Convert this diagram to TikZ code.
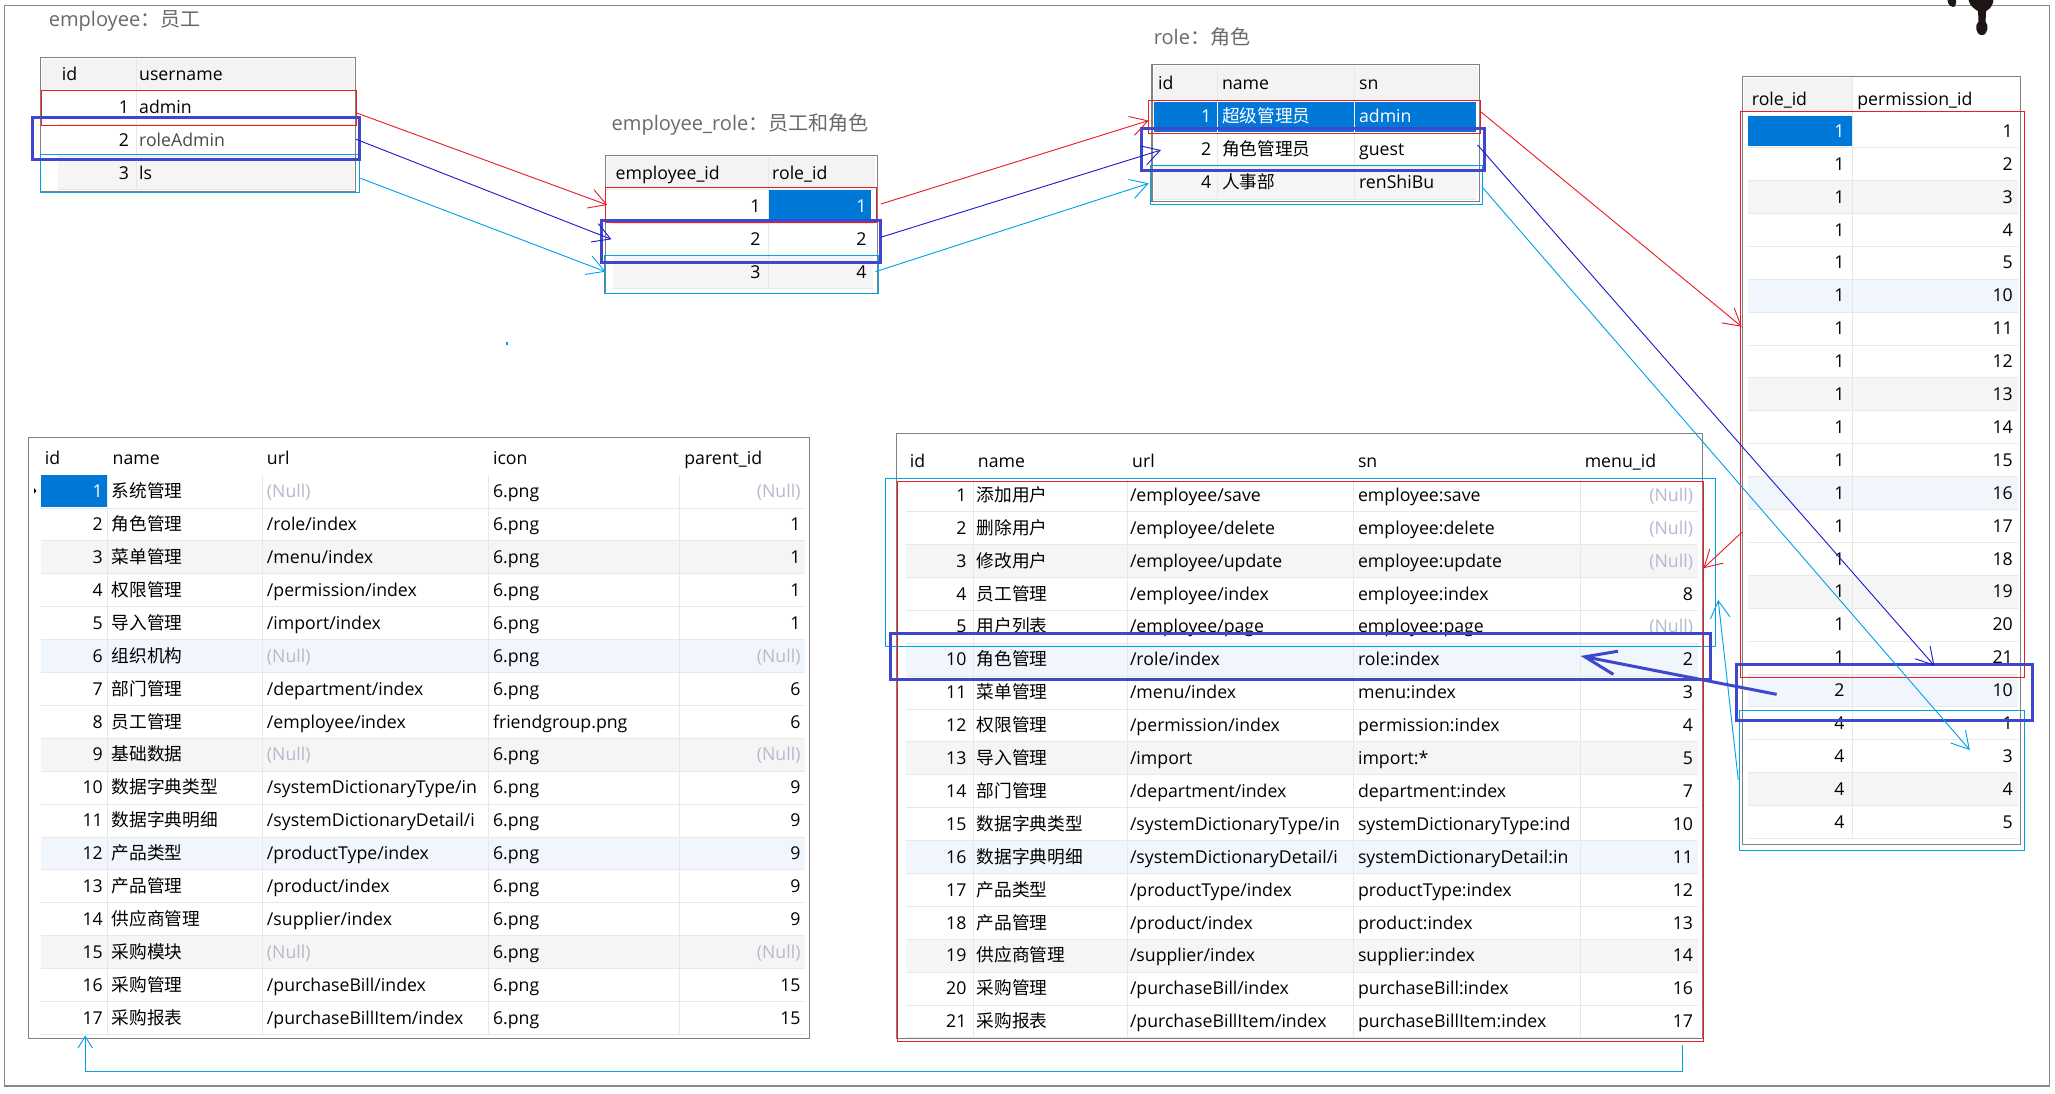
\documentclass[tikz,border=0pt]{standalone}
\usepackage{fontspec}
\setmainfont{Open Sans}
\newfontfamily\cjk{Noto Sans CJK SC}
\usetikzlibrary{arrows.meta}

\definecolor{frameGray}{HTML}{888888}
\definecolor{tblGray}{HTML}{808080}
\definecolor{hdrBg}{HTML}{F3F3F3}
\definecolor{rowGray}{HTML}{F5F5F5}
\definecolor{rowBlue}{HTML}{F1F6FC}
\definecolor{gridLine}{HTML}{E8E8E8}
\definecolor{selBlue}{HTML}{0078D7}
\definecolor{nullText}{HTML}{B5B9CC}
\definecolor{titleGray}{HTML}{6A6A6A}
\definecolor{editGray}{HTML}{4A4A4A}
\definecolor{mkRed}{HTML}{ED1C24}
\definecolor{mkIndigo}{HTML}{3F48CC}
\definecolor{mkCyan}{HTML}{00A2E8}
\definecolor{mkBlue}{HTML}{1C1CD0}
\definecolor{inkBlot}{HTML}{1E1614}

\newcommand\zh[1]{{\cjk #1}}
\newcommand\nul{\textcolor{nullText}{(Null)}}
\newcommand\wt[1]{\textcolor{white}{#1}}
\newcommand\cellfont{\fontsize{13.5}{16}\selectfont}
\newcommand\titlefont{\fontsize{15.3}{18}\selectfont}
% baseline of row #2 in a table whose first data row starts at #1
\newcommand\rb[2]{#1+(#2-0.5)*25.1+4.8}

% one band of a striped table
\newcommand\band[5]{\fill[#1] (#2,{#4+(#5-1)*25.1}) rectangle (#3,{#4+#5*25.1});}
% horizontal row separators
\newcommand\rowlines[4]{\foreach \k in {1,...,#4} \draw[grid] (#1,{#3+\k*25.1}) -- (#2,{#3+\k*25.1});}

% menu table: index, id, name, url, icon, parent_id
\newcommand\leftmenurow[6]{%
  \node[cellR] (lm#1-id) at (78.6,{\rb{362.5}{#1}}) {#2};
  \node[cellL] (lm#1-nm) at (85,{\rb{362.5}{#1}}) {\zh{#3}};
  \begin{scope}
    \clip (201,340) rectangle (372.5,800);
    \node[cellL] (lm#1-url) at (203.5,{\rb{362.5}{#1}}) {#4};
  \end{scope}
  \node[cellL] (lm#1-ic) at (376,{\rb{362.5}{#1}}) {#5};
  \node[cellR] (lm#1-pa) at (611,{\rb{362.5}{#1}}) {#6};
}
% permission table: index, id, name, url, sn, menu_id
\newcommand\permrow[6]{%
  \node[cellR] (pm#1-id) at (737.6,{\rb{365.2}{#1}}) {#2};
  \node[cellL] (pm#1-nm) at (745,{\rb{365.2}{#1}}) {\zh{#3}};
  \begin{scope}
    \clip (861,340) rectangle (1032.5,800);
    \node[cellL] (pm#1-url) at (862,{\rb{365.2}{#1}}) {#4};
  \end{scope}
  \begin{scope}
    \clip (1034,340) rectangle (1205.2,800);
    \node[cellL] (pm#1-sn) at (1036,{\rb{365.2}{#1}}) {#5};
  \end{scope}
  \node[cellR] (pm#1-mid) at (1292,{\rb{365.2}{#1}}) {#6};
}

\tikzset{
  cellL/.style={anchor=base west, inner sep=0pt, font=\cellfont},
  cellR/.style={anchor=base east, inner sep=0pt, font=\cellfont},
  titletext/.style={anchor=base west, inner sep=0pt, font=\titlefont, text=titleGray},
  tblframe/.style={draw=tblGray, line width=0.8pt},
  grid/.style={draw=gridLine, line width=0.6pt},
  boxRed/.style={draw=mkRed, line width=0.8pt},
  boxIndigo/.style={draw=mkIndigo, line width=2.3pt},
  boxCyan/.style={draw=mkCyan, line width=0.8pt},
  link/.style={line width=0.7pt, -{Straight Barb[length=13pt,width=15pt]}},
  linkRed/.style={link, draw=mkRed},
  linkBlue/.style={link, draw=mkBlue},
  linkCyan/.style={link, draw=mkCyan},
}

\begin{document}
\begin{tikzpicture}[x=1pt, y=-1pt]
\useasboundingbox (0,0) rectangle (1568,834);
\fill[white] (0,0) rectangle (1568,834);
\draw[frameGray, line width=0.9pt] (3.5,4) rectangle (1563.7,828.6);

% ---------- titles ----------
\node[titletext] (tEmp) at (37,20.5) {employee\zh{：员工}};
\node[titletext] (tEmpRole) at (466.5,99.6) {employee\_role\zh{：员工和角色}};
\node[titletext] (tRole) at (880.2,34.3) {role\zh{：角色}};

% ---------- employee ----------
\fill[hdrBg] (32,45) rectangle (270,69.5);
\band{rowGray}{44}{270}{69.5}{3}
\rowlines{44}{270}{69.5}{3}
\draw[grid] (104,45) -- (104,144.8);
\draw[tblframe] (30.6,43.7) rectangle (271.6,146);
\node[cellL] (eH1) at (47,61.3) {id};
\node[cellL] (eH2) at (106,61.3) {username};
\node[cellR] (e1id) at (98.7,{\rb{69.5}{1}}) {1};
\node[cellL] (e1nm) at (106,{\rb{69.5}{1}}) {admin};
\node[cellR] (e2id) at (98.7,{\rb{69.5}{2}}) {2};
\node[cellL, text=editGray] (e2nm) at (106,{\rb{69.5}{2}}) {roleAdmin};
\node[cellR] (e3id) at (98.7,{\rb{69.5}{3}}) {3};
\node[cellL] (e3nm) at (106,{\rb{69.5}{3}}) {ls};

% ---------- employee_role ----------
\fill[hdrBg] (463.5,119.5) rectangle (667.5,145);
\band{rowGray}{467.8}{665.8}{145}{3}
\rowlines{467.8}{665.8}{145}{3}
\draw[grid] (586,119.5) -- (586,220.3);
\fill[selBlue] (586.9,145.3) rectangle (664.9,169.5);
\draw[tblframe] (462.1,118.3) rectangle (669.2,223.8);
\node[cellL] (erH1) at (469.6,137.1) {employee\_id};
\node[cellL] (erH2) at (589,137.1) {role\_id};
\foreach \i/\a/\b in {1/1/1,2/2/2,3/3/4}{
  \node[cellR] (er\i a) at (580.4,{\rb{145}{\i}}) {\a};
  \node[cellR] (er\i b) at (661.4,{\rb{145}{\i}}) {\ifnum\i=1 \wt{\b}\else\b\fi};
}

% ---------- role ----------
\fill[hdrBg] (880.2,50) rectangle (1127.5,76.5);
\band{rowGray}{880.2}{1126.5}{76.5}{3}
\rowlines{880.2}{1126.5}{76.5}{3}
\draw[grid] (929,50) -- (929,151.8);
\draw[grid] (1033.6,50) -- (1033.6,151.8);
\fill[selBlue] (880.2,77.6) rectangle (1126.5,100.8);
\draw[white, line width=0.6pt] (929,77.6) -- (929,100.8) (1033.6,77.6) -- (1033.6,100.8);
\draw[tblframe] (879,49) rectangle (1128.6,154);
\node[cellL] (rH1) at (883.5,68.4) {id};
\node[cellL] (rH2) at (932.2,68.4) {name};
\node[cellL] (rH3) at (1036.8,68.4) {sn};
\node[cellR] (r1id) at (924.3,{\rb{76.5}{1}}) {\wt{1}};
\node[cellL] (r1nm) at (932.2,{\rb{76.5}{1}}) {\wt{\zh{超级管理员}}};
\node[cellL] (r1sn) at (1036.8,{\rb{76.5}{1}}) {\wt{admin}};
\node[cellR] (r2id) at (924.3,{\rb{76.5}{2}}) {2};
\node[cellL] (r2nm) at (932.2,{\rb{76.5}{2}}) {\zh{角色管理员}};
\node[cellL] (r2sn) at (1036.8,{\rb{76.5}{2}}) {guest};
\node[cellR] (r3id) at (924.3,{\rb{76.5}{3}}) {4};
\node[cellL] (r3nm) at (932.2,{\rb{76.5}{3}}) {\zh{人事部}};
\node[cellL] (r3sn) at (1036.8,{\rb{76.5}{3}}) {renShiBu};

% ---------- role_permission ----------
\fill[hdrBg] (1331,59.5) rectangle (1413.6,85);
\foreach \i in {3,9,15,21} {\band{rowGray}{1333.8}{1540}{87.5}{\i}}
\foreach \i in {6,12,18} {\band{rowBlue}{1333.8}{1540}{87.5}{\i}}
\rowlines{1333.8}{1540}{87.5}{22}
\draw[grid] (1413.6,59.5) -- (1413.6,639.7);
\fill[selBlue] (1334,88.5) rectangle (1413,111.4);
\draw[tblframe] (1329.7,58.5) rectangle (1542,644.7);
\node[cellL] (rpH1) at (1336.5,80.3) {role\_id};
\node[cellL] (rpH2) at (1417,80.3) {permission\_id};
\foreach \i/\a/\b in {1/1/1,2/1/2,3/1/3,4/1/4,5/1/5,6/1/10,7/1/11,8/1/12,9/1/13,10/1/14,11/1/15,
  12/1/16,13/1/17,14/1/18,15/1/19,16/1/20,17/1/21,18/2/10,19/4/1,20/4/3,21/4/4,22/4/5}{
  \node[cellR] (rp\i a) at (1407.5,{\rb{87.5}{\i}}) {\ifnum\i=1 \wt{\a}\else\a\fi};
  \node[cellR] (rp\i b) at (1536,{\rb{87.5}{\i}}) {\b};
}

% ---------- menu ----------
\foreach \i in {3,9,15} {\band{rowGray}{31.1}{614.5}{362.5}{\i}}
\foreach \i in {6,12} {\band{rowBlue}{31.1}{614.5}{362.5}{\i}}
\rowlines{31.1}{614.5}{362.5}{17}
\foreach \x in {81.8,200.3,373,518} \draw[grid] (\x,362.5) -- (\x,{362.5+17*25.1});
\fill[selBlue] (31.1,362.4) rectangle (81.8,386.6);
\draw[tblframe] (22,334) rectangle (617.7,792.5);
\fill[black] (26,372.5) -- (27.8,374.5) -- (26,376.5) -- cycle;
\node[cellL] (lmH1) at (34,354.3) {id};
\node[cellL] (lmH2) at (85.8,354.3) {name};
\node[cellL] (lmH3) at (203.5,354.3) {url};
\node[cellL] (lmH4) at (376,354.3) {icon};
\node[cellL] (lmH5) at (522,354.3) {parent\_id};
\leftmenurow{1}{\wt{1}}{系统管理}{\nul}{6.png}{\nul}
\leftmenurow{2}{2}{角色管理}{/role/index}{6.png}{1}
\leftmenurow{3}{3}{菜单管理}{/menu/index}{6.png}{1}
\leftmenurow{4}{4}{权限管理}{/permission/index}{6.png}{1}
\leftmenurow{5}{5}{导入管理}{/import/index}{6.png}{1}
\leftmenurow{6}{6}{组织机构}{\nul}{6.png}{\nul}
\leftmenurow{7}{7}{部门管理}{/department/index}{6.png}{6}
\leftmenurow{8}{8}{员工管理}{/employee/index}{friendgroup.png}{6}
\leftmenurow{9}{9}{基础数据}{\nul}{6.png}{\nul}
\leftmenurow{10}{10}{数据字典类型}{/systemDictionaryType/in}{6.png}{9}
\leftmenurow{11}{11}{数据字典明细}{/systemDictionaryDetail/i}{6.png}{9}
\leftmenurow{12}{12}{产品类型}{/productType/index}{6.png}{9}
\leftmenurow{13}{13}{产品管理}{/product/index}{6.png}{9}
\leftmenurow{14}{14}{供应商管理}{/supplier/index}{6.png}{9}
\leftmenurow{15}{15}{采购模块}{\nul}{6.png}{\nul}
\leftmenurow{16}{16}{采购管理}{/purchaseBill/index}{6.png}{15}
\leftmenurow{17}{17}{采购报表}{/purchaseBillItem/index}{6.png}{15}

% ---------- permission ----------
\foreach \i in {3,9,15} {\band{rowGray}{691.3}{1295.7}{365.2}{\i}}
\foreach \i in {6,12} {\band{rowBlue}{691.3}{1295.7}{365.2}{\i}}
\rowlines{691.3}{1295.7}{365.2}{17}
\foreach \x in {742.5,860.4,1033,1205.7} \draw[grid] (\x,365.2) -- (\x,{365.2+17*25.1});
\draw[tblframe] (683.8,330.5) rectangle (1299,792.7);
\node[cellL] (pmH1) at (694,356.8) {id};
\node[cellL] (pmH2) at (746,356.8) {name};
\node[cellL] (pmH3) at (863.7,356.8) {url};
\node[cellL] (pmH4) at (1036,356.8) {sn};
\node[cellL] (pmH5) at (1209,356.8) {menu\_id};
\permrow{1}{1}{添加用户}{/employee/save}{employee:save}{\nul}
\permrow{2}{2}{删除用户}{/employee/delete}{employee:delete}{\nul}
\permrow{3}{3}{修改用户}{/employee/update}{employee:update}{\nul}
\permrow{4}{4}{员工管理}{/employee/index}{employee:index}{8}
\permrow{5}{5}{用户列表}{/employee/page}{employee:page}{\nul}
\permrow{6}{10}{角色管理}{/role/index}{role:index}{2}
\permrow{7}{11}{菜单管理}{/menu/index}{menu:index}{3}
\permrow{8}{12}{权限管理}{/permission/index}{permission:index}{4}
\permrow{9}{13}{导入管理}{/import}{import:*}{5}
\permrow{10}{14}{部门管理}{/department/index}{department:index}{7}
\permrow{11}{15}{数据字典类型}{/systemDictionaryType/in}{systemDictionaryType:ind}{10}
\permrow{12}{16}{数据字典明细}{/systemDictionaryDetail/i}{systemDictionaryDetail:in}{11}
\permrow{13}{17}{产品类型}{/productType/index}{productType:index}{12}
\permrow{14}{18}{产品管理}{/product/index}{product:index}{13}
\permrow{15}{19}{供应商管理}{/supplier/index}{supplier:index}{14}
\permrow{16}{20}{采购管理}{/purchaseBill/index}{purchaseBill:index}{16}
\permrow{17}{21}{采购报表}{/purchaseBillItem/index}{purchaseBillItem:index}{17}

% ---------- marked rows ----------
\draw[boxRed] (32,69) rectangle (272,96);
\draw[boxCyan] (30.6,118) rectangle (274,147);
\draw[boxRed] (462,143) rectangle (669,170);
\draw[boxCyan] (461,195) rectangle (670,224);
\draw[boxRed] (876.5,76.8) rectangle (1129.7,101.7);
\draw[boxCyan] (878,126) rectangle (1131,156);
\draw[boxRed] (1328.2,85.2) rectangle (1544.7,516.8);
\draw[boxCyan] (1327,542.3) rectangle (1545,648.6);
\draw[boxCyan] (675.6,365) rectangle (1308.6,493);
\draw[boxRed] (684.6,367.5) rectangle (1299.7,795);

\draw[boxIndigo] (25,90) rectangle (274,122);
\draw[boxIndigo] (459,168) rectangle (672,200);
\draw[boxIndigo] (870.6,98.4) rectangle (1133,130);
\draw[boxIndigo] (1325,507) rectangle (1551,550);
\draw[boxIndigo] (679.7,483.7) rectangle (1304.8,518.8);

% ---------- connector ends ----------
\coordinate (empR1) at (271.6,86);
\coordinate (empR2) at (271.7,106.3);
\coordinate (empR3) at (275,136);
\coordinate (erL1) at (463.4,156.4);
\coordinate (erL2) at (466.5,182.6);
\coordinate (erL3) at (462,207.3);
\coordinate (erR1) at (672,155.7);
\coordinate (erR2) at (672.2,181);
\coordinate (erR3) at (668,207.3);
\coordinate (roleL1) at (876.5,92);
\coordinate (roleL2) at (885.8,114.5);
\coordinate (roleL3) at (876.5,139.9);
\coordinate (roleR1) at (1129.7,85.2);
\coordinate (roleR2) at (1127.4,110.6);
\coordinate (roleR3) at (1130.6,142.4);
\coordinate (rpIn1) at (1329,249.3);
\coordinate (rpOut1) at (1329,406.2);
\coordinate (rpIn2) at (1476,508);
\coordinate (rpIn4) at (1503,572.3);
\coordinate (rpOut4) at (1326.3,595);
\coordinate (rpOut2) at (1355.6,529.8);
\coordinate (pmIn1) at (1299.7,433.6);
\coordinate (pmIn2) at (1206,500.5);
\coordinate (pmIn4) at (1311,457.8);
\coordinate (pmOut) at (1284,797);
\coordinate (lmIn) at (65,790);

% ---------- connectors ----------
\draw[linkRed] (empR1) -- (erL1);
\draw[linkRed] (erR1) -- (roleL1);
\draw[linkRed] (roleR1) -- (rpIn1);
\draw[linkRed] (rpOut1) -- (pmIn1);
\draw[linkBlue] (empR2) -- (erL2);
\draw[linkBlue] (erR2) -- (roleL2);
\draw[linkBlue] (roleR2) -- (rpIn2);
\draw[linkCyan] (empR3) -- (erL3);
\draw[linkCyan] (erR3) -- (roleL3);
\draw[linkCyan] (roleR3) -- (rpIn4);
\draw[linkCyan] (rpOut4) -- (pmIn4);
\draw[mkCyan, line width=0.7pt, -{Straight Barb[length=9pt,width=11pt]}]
  (pmOut) |- (lmIn |- 0,817.7) -- (lmIn);
\draw[mkIndigo, line width=2.3pt, -{Straight Barb[length=24pt,width=18pt]}] (rpOut2) -- (pmIn2);

% stray pen dot
\fill[mkCyan] (386,261.3) rectangle (387.6,262.9);

% ink blot at the upper edge
\fill[inkBlot] (1486,0) .. controls (1486,4) and (1489.5,6) .. (1491.5,5)
  .. controls (1493,3.5) and (1492.5,1) .. (1492.5,0) -- cycle;
\fill[inkBlot] (1502,0) .. controls (1503,5) and (1507,7) .. (1509.3,8.5)
  -- (1509.6,16.5) .. controls (1506.8,18.5) and (1507,26.5) .. (1512.2,26.8)
  .. controls (1517.2,26.5) and (1517.4,19) .. (1515,16.5)
  -- (1515.4,8.5) .. controls (1519,6.5) and (1521,3) .. (1521,0) -- cycle;
\end{tikzpicture}
\end{document}
